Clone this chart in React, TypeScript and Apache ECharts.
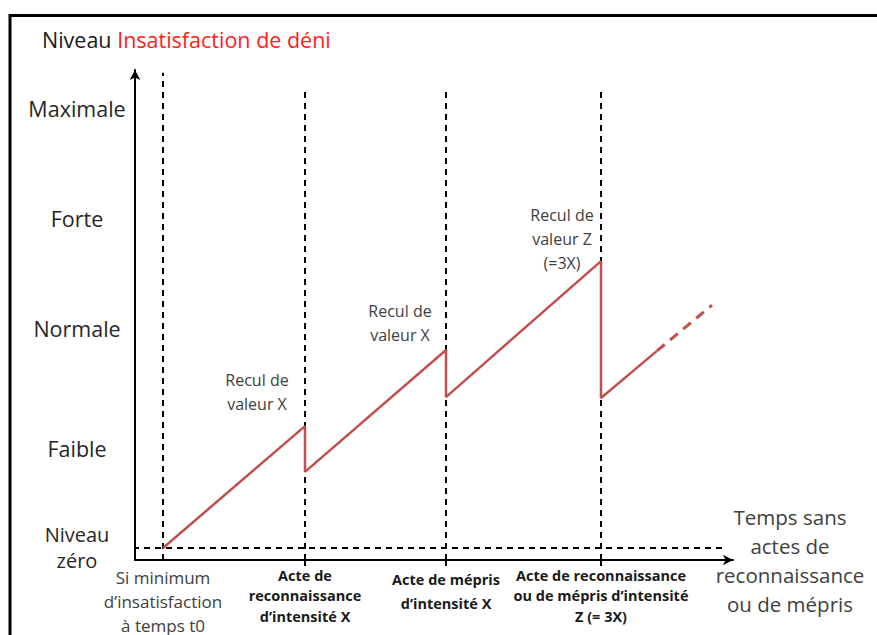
import React, { useEffect, useRef } from "react";
import * as echarts from "echarts";

// Axis extents (time units, level units)
const X_MIN = 0;
const X_MAX = 59.8;
const Y_MIN = -2.73;
const Y_MAX = 108.64;

// Y axis levels
const levelValues = [0, 22.5, 50, 75, 100];
const levelLabels = ["{z|Niveau}\n{z|zéro}", "Faible", "Normale", "Forte", "Maximale"];

// Events on the time axis
const eventX = [2.8, 17.0, 31.1, 46.6];
const eventTop = [108, 104.5, 104.5, 104.5];
const eventLabels = [
  "{n|Si minimum}\n{n|d’insatisfaction}\n{n|à temps t0}",
  "{b|Acte de}\n{b|reconnaissance}\n{b|d’intensité X}",
  "{bp|Acte de mépris}\n{b|d’intensité X}",
  "{b|Acte de reconnaissance}\n{b|ou de mépris d’intensité}\n{b|Z (= 3X)}",
];
const tickX = [17.0, 31.1, 46.6];

// Dissatisfaction curve
const deniX = [2.8, 17.0, 17.0, 31.1, 31.1, 46.6, 46.6, 52.2];
const deniY = [0, 27.7, 17.3, 45.0, 34.3, 65.2, 34.1, 44.8];
// Projected (dashed) continuation
const projX = [52.2, 57.7];
const projY = [44.8, 55.2];

// Annotations at the drops
const noteIndex = [1, 3, 5];
const noteTexts = ["Recul de\nvaleur X", "Recul de\nvaleur X", "Recul de\nvaleur Z\n(=3X)"];
const noteOffsets = [[-48, -34], [-46, -27], [-39, -22]];

const FONT = "'Open Sans', Lato, sans-serif";
const RED = "#c0504d";
const GRAY = "#404040";

export default function App() {
  const ref = useRef<HTMLDivElement>(null);

  useEffect(() => {
    document.body.style.margin = "0";
    if (!ref.current) return;
    const chart = echarts.init(ref.current, undefined, { renderer: "svg" });

    const findIdx = (arr: number[], v: number) =>
      arr.findIndex((a) => Math.abs(a - v) < 1e-6);

    const eventSeries = eventX.map((x, i) => ({
      type: "line",
      silent: true,
      symbol: "none",
      z: 1,
      lineStyle: { color: "#000", width: 2, type: [6, 5] },
      data: [
        [x, Y_MIN],
        [x, eventTop[i]],
      ],
    }));

    const boldStyle = {
      fontSize: 14.5,
      lineHeight: 20.5,
      color: "#1a1a1a",
      fontWeight: "bold",
      fontFamily: FONT,
    };

    const option: any = {
      animation: false,
      backgroundColor: "#fff",
      textStyle: { fontFamily: FONT },
      title: {
        text: "{a|Niveau }{b|Insatisfaction de déni}",
        left: 42,
        top: 28,
        padding: 0,
        textStyle: {
          rich: {
            a: { fontSize: 21.5, color: "#1a1a1a", fontFamily: FONT, fontWeight: "normal" },
            b: { fontSize: 21.5, color: "#ff2020", fontFamily: FONT, fontWeight: "normal" },
          },
        },
      },
      graphic: [
        {
          type: "polyline",
          silent: true,
          shape: {
            points: [
              [10, 645],
              [10, 15.5],
              [890, 15.5],
            ],
          },
          style: { stroke: "#000", lineWidth: 3, fill: "none" },
        },
      ],
      grid: { left: 135, top: 70, width: 598, height: 490, containLabel: false },
      xAxis: {
        type: "value",
        min: X_MIN,
        max: X_MAX,
        splitLine: { show: false },
        axisLine: {
          show: true,
          onZero: false,
          symbol: ["none", "arrow"],
          symbolSize: [8, 10],
          lineStyle: { color: "#000", width: 2 },
        },
        axisTick: {
          show: true,
          customValues: tickX,
          length: 6,
          lineStyle: { color: "#000", width: 2 },
        },
        axisLabel: {
          show: true,
          customValues: eventX,
          margin: 5,
          verticalAlign: "top",
          formatter: (v: number) => {
            const i = findIdx(eventX, v);
            return i >= 0 ? eventLabels[i] : "";
          },
          rich: {
            n: { fontSize: 17, lineHeight: 24, color: GRAY, fontFamily: FONT },
            b: boldStyle,
            bp: { ...boldStyle, lineHeight: 28 },
          },
        },
        name: "Temps sans\nactes de\nreconnaissance\nou de mépris",
        nameLocation: "end",
        nameGap: 57,
        nameTextStyle: {
          align: "center",
          verticalAlign: "middle",
          fontSize: 20.5,
          lineHeight: 29,
          color: GRAY,
          fontFamily: FONT,
          padding: [12, 0, 0, 0],
        },
      },
      yAxis: {
        type: "value",
        min: Y_MIN,
        max: Y_MAX,
        splitLine: { show: false },
        axisLine: {
          show: true,
          onZero: false,
          symbol: ["none", "arrow"],
          symbolSize: [8, 10],
          lineStyle: { color: "#000", width: 2 },
        },
        axisTick: { show: false },
        axisLabel: {
          show: true,
          customValues: levelValues,
          align: "center",
          margin: 58,
          formatter: (v: number) => {
            const i = findIdx(levelValues, v);
            return i >= 0 ? levelLabels[i] : "";
          },
          fontSize: 21.5,
          lineHeight: 25,
          color: "#262626",
          fontFamily: FONT,
          rich: {
            z: { fontSize: 20, lineHeight: 26, color: "#262626", fontFamily: FONT },
          },
        },
      },
      series: [
        ...eventSeries,
        {
          type: "line",
          silent: true,
          symbol: "none",
          z: 1,
          lineStyle: { color: "#000", width: 2, type: [6, 5] },
          data: [
            [-0.2, 0],
            [59.2, 0],
          ],
          clip: false,
        },
        {
          type: "line",
          name: "Insatisfaction de déni",
          symbol: "none",
          z: 3,
          lineStyle: { color: RED, width: 2.5 },
          data: deniX.map((x, i) => [x, deniY[i]]),
          markPoint: {
            symbol: "circle",
            symbolSize: 0,
            silent: true,
            label: {
              show: true,
              position: "inside",
              color: GRAY,
              fontSize: 16,
              lineHeight: 24,
              fontFamily: FONT,
            },
            data: noteIndex.map((idx, k) => ({
              coord: [deniX[idx], deniY[idx]],
              label: {
                formatter: noteTexts[k],
                offset: noteOffsets[k],
              },
            })),
          },
        },
        {
          type: "line",
          symbol: "none",
          z: 3,
          lineStyle: { color: RED, width: 3, type: [10, 7] },
          data: projX.map((x, i) => [x, projY[i]]),
        },
      ],
    };

    chart.setOption(option);
    return () => chart.dispose();
  }, []);

  return <div ref={ref} style={{ width: 877, height: 635 }} />;
}
